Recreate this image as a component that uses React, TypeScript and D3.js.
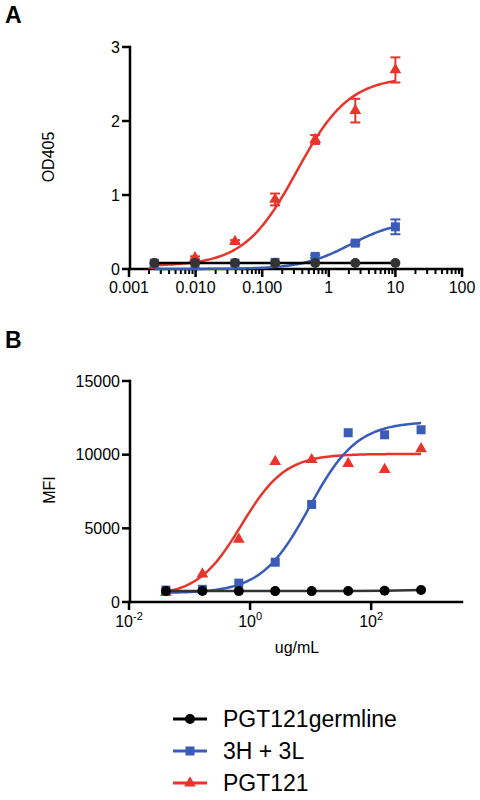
import React from 'react';
import * as d3 from 'd3';

// colours
const RED = '#e8352b';
const BLUE = '#3a5cb8';
const BLACK = '#000000';
const FONT = '"Liberation Sans", Arial, Helvetica, sans-serif';

// ---- panel A (ELISA, OD405) ----
const concA = [0.0024, 0.0098, 0.039, 0.156, 0.625, 2.5, 10];
const germlineA = [0.08, 0.08, 0.08, 0.08, 0.08, 0.08, 0.08];
const h3l3A = [0.08, 0.07, 0.08, 0.09, 0.17, 0.35, 0.57];
const h3l3ErrA = [0, 0, 0, 0, 0.02, 0.02, 0.1];
const pgt121A = [0.05, 0.15, 0.37, 0.94, 1.75, 2.14, 2.69];
const pgt121ErrA = [0, 0.02, 0.02, 0.08, 0.06, 0.16, 0.17];
const xTicksA = [0.001, 0.01, 0.1, 1, 10, 100];
const xTickLabelsA = ['0.001', '0.010', '0.100', '1', '10', '100'];
const yTicksA = [0, 1, 2, 3];
// fitted sigmoid parameters
const fitRedA = { bottom: 0.04, top: 2.6, ec50: 0.33, hill: 1.1 };
const fitBlueA = { bottom: 0.0, top: 0.66, ec50: 2.1, hill: 1.2 };

// ---- panel B (MFI) ----
const concB = [0.0407, 0.163, 0.651, 2.6, 10.4, 41.7, 166.7, 666.7];
const germlineB = [740, 750, 740, 740, 740, 750, 760, 810];
const h3l3B = [810, 860, 1280, 2700, 6620, 11490, 11350, 11690];
const pgt121B = [640, 1900, 4260, 9530, 9660, 9390, 8990, 10400];
const xTicksB = [-2, 0, 2];
const yTicksB = [0, 5000, 10000, 15000];
const fitRedB = { bottom: 400, top: 10050, ec50: 0.72, hill: 1.2 };
const fitBlueB = { bottom: 600, top: 12250, ec50: 9.5, hill: 1.1 };

const legendNames = ['PGT121germline', '3H + 3L', 'PGT121'];

type Fit = { bottom: number; top: number; ec50: number; hill: number };
const hillFn = (p: Fit) => (x: number) =>
  p.bottom + (p.top - p.bottom) / (1 + Math.pow(p.ec50 / x, p.hill));

const sample = (lo: number, hi: number, n = 120) => {
  const a = Math.log10(lo), b = Math.log10(hi);
  return d3.range(n + 1).map(i => Math.pow(10, a + (b - a) * i / n));
};

const triPath = d3.symbol(d3.symbolTriangle, 60)()!;
const sqPath = d3.symbol(d3.symbolSquare, 81)()!;

const Marker = ({ kind, x, y, color, r = 5 }: any) => {
  if (kind === 'circle') return <circle cx={x} cy={y} r={r} fill={color} />;
  return <path d={kind === 'square' ? sqPath : triPath} transform={`translate(${x},${y})`} fill={color} />;
};

const App = () => {
  // panel A scales
  const xA = d3.scaleLog().domain([0.001, 100]).range([129, 462]);
  const yA = d3.scaleLinear().domain([0, 3]).range([269, 47]);
  // panel B scales
  const xB = d3.scaleLog().domain([0.01, Math.pow(10, 3.5)]).range([129, 462]);
  const yB = d3.scaleLinear().domain([0, 15000]).range([602, 381]);

  const curve = (xs: d3.ScaleLogarithmic<number, number>, ys: d3.ScaleLinear<number, number>, f: (x: number) => number, lo: number, hi: number) =>
    d3.line<number>().x(d => xs(d)).y(d => ys(f(d)))(sample(lo, hi)) || '';

  const minorA: number[] = [];
  for (let e = -3; e < 2; e++) for (let m = 2; m <= 9; m++) minorA.push(m * Math.pow(10, e));

  const flat = (xs: any, ys: any, cx: number[], vy: number[]) =>
    d3.line<number>().x((_, i) => xs(cx[i])).y(d => ys(d))(vy) || '';

  const errBars = (cx: number[], vals: number[], errs: number[], color: string) =>
    vals.map((v, i) => errs[i] > 0 ? (
      <g key={i} stroke={color} strokeWidth={2}>
        <line x1={xA(cx[i])} x2={xA(cx[i])} y1={yA(v - errs[i])} y2={yA(v + errs[i])} />
        <line x1={xA(cx[i]) - 5} x2={xA(cx[i]) + 5} y1={yA(v - errs[i])} y2={yA(v - errs[i])} />
        <line x1={xA(cx[i]) - 5} x2={xA(cx[i]) + 5} y1={yA(v + errs[i])} y2={yA(v + errs[i])} />
      </g>
    ) : null);

  return (
    <svg width={480} height={800} style={{ position: 'absolute', left: 0, top: 0, background: '#fff' }} fontFamily={FONT}>
      {/* panel labels */}
      <text x={5} y={23} fontSize={23} fontWeight="bold">A</text>
      <text x={5} y={348} fontSize={23} fontWeight="bold">B</text>

      {/* ===== Panel A ===== */}
      <g>
        {/* y axis */}
        <line x1={130} x2={130} y1={yA(3)} y2={yA(0)} stroke={BLACK} strokeWidth={2.5} strokeLinecap="square" />
        {yTicksA.map(t => (
          <g key={t}>
            <line x1={122} x2={130} y1={yA(t)} y2={yA(t)} stroke={BLACK} strokeWidth={2.5} />
            <text x={120} y={yA(t)} dy="0.35em" textAnchor="end" fontSize={16}>{t}</text>
          </g>
        ))}
        <text transform={`translate(48,157) rotate(-90)`} textAnchor="middle" dy="0.35em" fontSize={16}>OD405</text>
        {/* x axis */}
        <line x1={xA(0.001)} x2={xA(100)} y1={269} y2={269} stroke={BLACK} strokeWidth={2.5} strokeLinecap="square" />
        {minorA.map((t, i) => (
          <line key={i} x1={xA(t)} x2={xA(t)} y1={269} y2={274} stroke={BLACK} strokeWidth={2} />
        ))}
        {xTicksA.map((t, i) => (
          <g key={t}>
            <line x1={xA(t)} x2={xA(t)} y1={269} y2={277} stroke={BLACK} strokeWidth={2.5} />
            <text x={xA(t)} y={293} textAnchor="middle" fontSize={16}>{xTickLabelsA[i]}</text>
          </g>
        ))}

        {/* red */}
        <path d={curve(xA, yA, hillFn(fitRedA), concA[0], concA[6])} fill="none" stroke={RED} strokeWidth={2.5} />
        {errBars(concA, pgt121A, pgt121ErrA, RED)}
        {pgt121A.map((v, i) => <Marker key={i} kind="tri" x={xA(concA[i])} y={yA(v)} color={RED} />)}
        {/* blue */}
        <path d={curve(xA, yA, hillFn(fitBlueA), concA[0], concA[6])} fill="none" stroke={BLUE} strokeWidth={2.5} />
        {errBars(concA, h3l3A, h3l3ErrA, BLUE)}
        {h3l3A.map((v, i) => <Marker key={i} kind="square" x={xA(concA[i])} y={yA(v)} color={BLUE} />)}
        {/* black */}
        <path d={flat(xA, yA, concA, germlineA)} fill="none" stroke={BLACK} strokeWidth={2.5} />
        {germlineA.map((v, i) => <Marker key={i} kind="circle" x={xA(concA[i])} y={yA(v)} color="#333" r={5} />)}
      </g>

      {/* ===== Panel B ===== */}
      <g>
        <line x1={130} x2={130} y1={yB(15000)} y2={yB(0)} stroke={BLACK} strokeWidth={2.5} strokeLinecap="square" />
        {yTicksB.map(t => (
          <g key={t}>
            <line x1={122} x2={130} y1={yB(t)} y2={yB(t)} stroke={BLACK} strokeWidth={2.5} />
            <text x={120} y={yB(t)} dy="0.35em" textAnchor="end" fontSize={16}>{t}</text>
          </g>
        ))}
        <text transform={`translate(49,490) rotate(-90)`} textAnchor="middle" dy="0.35em" fontSize={16}>MFI</text>
        <line x1={xB.range()[0]} x2={xB.range()[1]} y1={602} y2={602} stroke={BLACK} strokeWidth={2.5} strokeLinecap="square" />
        {xTicksB.map(e => (
          <g key={e}>
            <line x1={xB(Math.pow(10, e))} x2={xB(Math.pow(10, e))} y1={602} y2={610} stroke={BLACK} strokeWidth={2.5} />
            <text x={xB(Math.pow(10, e))} y={627} textAnchor="middle" fontSize={16}>
              10<tspan dy={-7} fontSize={11}>{e}</tspan>
            </text>
          </g>
        ))}
        <text x={297} y={653} textAnchor="middle" fontSize={16}>ug/mL</text>

        <path d={curve(xB, yB, hillFn(fitRedB), concB[0], concB[7])} fill="none" stroke={RED} strokeWidth={2.5} />
        {pgt121B.map((v, i) => <Marker key={i} kind="tri" x={xB(concB[i])} y={yB(v)} color={RED} />)}
        <path d={curve(xB, yB, hillFn(fitBlueB), concB[0], concB[7])} fill="none" stroke={BLUE} strokeWidth={2.5} />
        {h3l3B.map((v, i) => <Marker key={i} kind="square" x={xB(concB[i])} y={yB(v)} color={BLUE} />)}
        <path d={flat(xB, yB, concB, germlineB)} fill="none" stroke="#333" strokeWidth={2.5} />
        {germlineB.map((v, i) => <Marker key={i} kind="circle" x={xB(concB[i])} y={yB(v)} color={BLACK} r={5} />)}
      </g>

      {/* legend */}
      {legendNames.map((name, i) => {
        const y = 719 + i * 32;
        const color = [BLACK, BLUE, RED][i];
        const kind = ['circle', 'square', 'tri'][i];
        return (
          <g key={name}>
            <line x1={173} x2={207} y1={y} y2={y} stroke={color} strokeWidth={3} />
            <Marker kind={kind} x={190} y={y} color={color} r={5} />
            <text x={223} y={y} dy="0.35em" fontSize={23}>{name}</text>
          </g>
        );
      })}
    </svg>
  );
};

export default App;
